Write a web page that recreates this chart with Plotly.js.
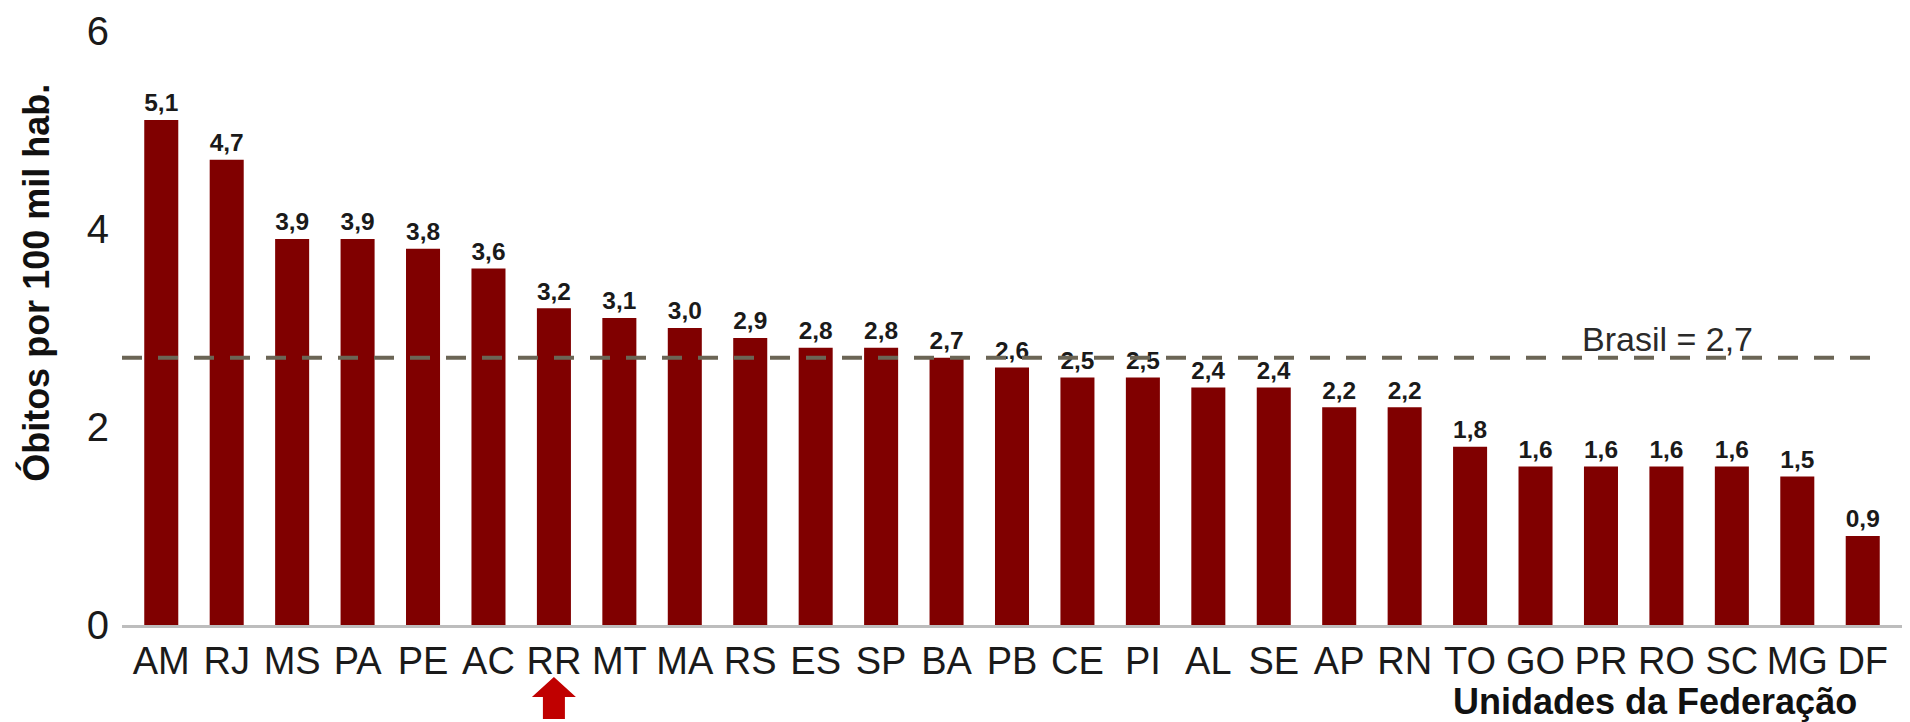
<!DOCTYPE html>
<html>
<head>
<meta charset="utf-8">
<script src="https://cdn.plot.ly/plotly-3.0.1.min.js"></script>
<style>html,body{margin:0;padding:0;background:#fff;}#chart{width:1910px;height:722px;}</style>
</head>
<body>
<div id="chart"></div>
<script>
// Data
const states = ["AM","RJ","MS","PA","PE","AC","RR","MT","MA","RS","ES","SP","BA","PB","CE","PI","AL","SE","AP","RN","TO","GO","PR","RO","SC","MG","DF"];
const rates  = [5.1,4.7,3.9,3.9,3.8,3.6,3.2,3.1,3.0,2.9,2.8,2.8,2.7,2.6,2.5,2.5,2.4,2.4,2.2,2.2,1.8,1.6,1.6,1.6,1.6,1.5,0.9];
const rateLabels = rates.map(v => v.toFixed(1).replace('.', ','));
const brasilRate = 2.7;
const brasilLabel = "Brasil = 2,7";
const highlighted = "RR";
const yTickVals = [0,2,4,6];
const yTitle = "Óbitos por 100 mil hab.";
const xTitle = "Unidades da Federação";

const font = "'Liberation Sans', Arial, sans-serif";

const trace = {
  type: 'bar',
  x: states,
  y: rates,
  text: rateLabels,
  textposition: 'outside',
  cliponaxis: false,
  textfont: {family: font, size: 26, color: '#1a1a1a', weight: 'bold'},
  marker: {color: '#800000', line: {width: 0}},
  width: 0.52,
  hoverinfo: 'x+y'
};

const hiIdx = states.indexOf(highlighted);

const layout = {
  width: 1910, height: 722,
  margin: {l: 122, r: 8, t: 31, b: 97},
  paper_bgcolor: '#ffffff', plot_bgcolor: '#ffffff',
  showlegend: false,
  xaxis: {
    type: 'category',
    range: [-0.6, states.length - 0.4],
    showline: true, linecolor: '#bdbdbd', linewidth: 3,
    showgrid: false, zeroline: false, ticks: '',
    tickangle: 0,
    tickfont: {family: font, size: 38, color: '#1a1a1a'},
    fixedrange: true
  },
  yaxis: {
    range: [0, 6],
    tickvals: yTickVals,
    ticktext: yTickVals.map(String),
    showline: false, showgrid: false, zeroline: false, ticks: '',
    ticklabelstandoff: 12,
    tickfont: {family: font, size: 40, color: '#1a1a1a'},
    fixedrange: true
  },
  shapes: [
    {type: 'line', xref: 'paper', yref: 'y', x0: 0, x1: 0.99, y0: brasilRate, y1: brasilRate,
     line: {color: '#6b6555', width: 4, dash: '20px,16px'}, layer: 'above'},
    {type: 'path', xref: 'x', yref: 'paper', xsizemode: 'pixel', ysizemode: 'pixel',
     xanchor: hiIdx, yanchor: 0,
     path: 'M 0 -52 L 22 -72 L 11 -72 L 11 -94 L -11 -94 L -11 -72 L -22 -72 Z',
     fillcolor: '#c00000', line: {width: 0}, layer: 'above'}
  ],
  annotations: [
    {text: brasilLabel, xref: 'paper', yref: 'y', x: 0.868, y: brasilRate,
     xanchor: 'center', yanchor: 'bottom', yshift: -2, showarrow: false,
     font: {family: font, size: 34, color: '#2a2a2a'}},
    {text: '<b>' + yTitle + '</b>', xref: 'paper', yref: 'paper', x: 0, y: 0.576,
     xanchor: 'center', yanchor: 'middle', xshift: -86, textangle: -90, showarrow: false,
     font: {family: font, size: 36, color: '#111111'}},
    {text: '<b>' + xTitle + '</b>', xref: 'paper', yref: 'paper', x: 0.861, y: 0,
     xanchor: 'center', yanchor: 'middle', yshift: -76, showarrow: false,
     font: {family: font, size: 36, color: '#111111'}}
  ]
};

Plotly.newPlot('chart', [trace], layout, {displayModeBar: false, staticPlot: true});
</script>
</body>
</html>
